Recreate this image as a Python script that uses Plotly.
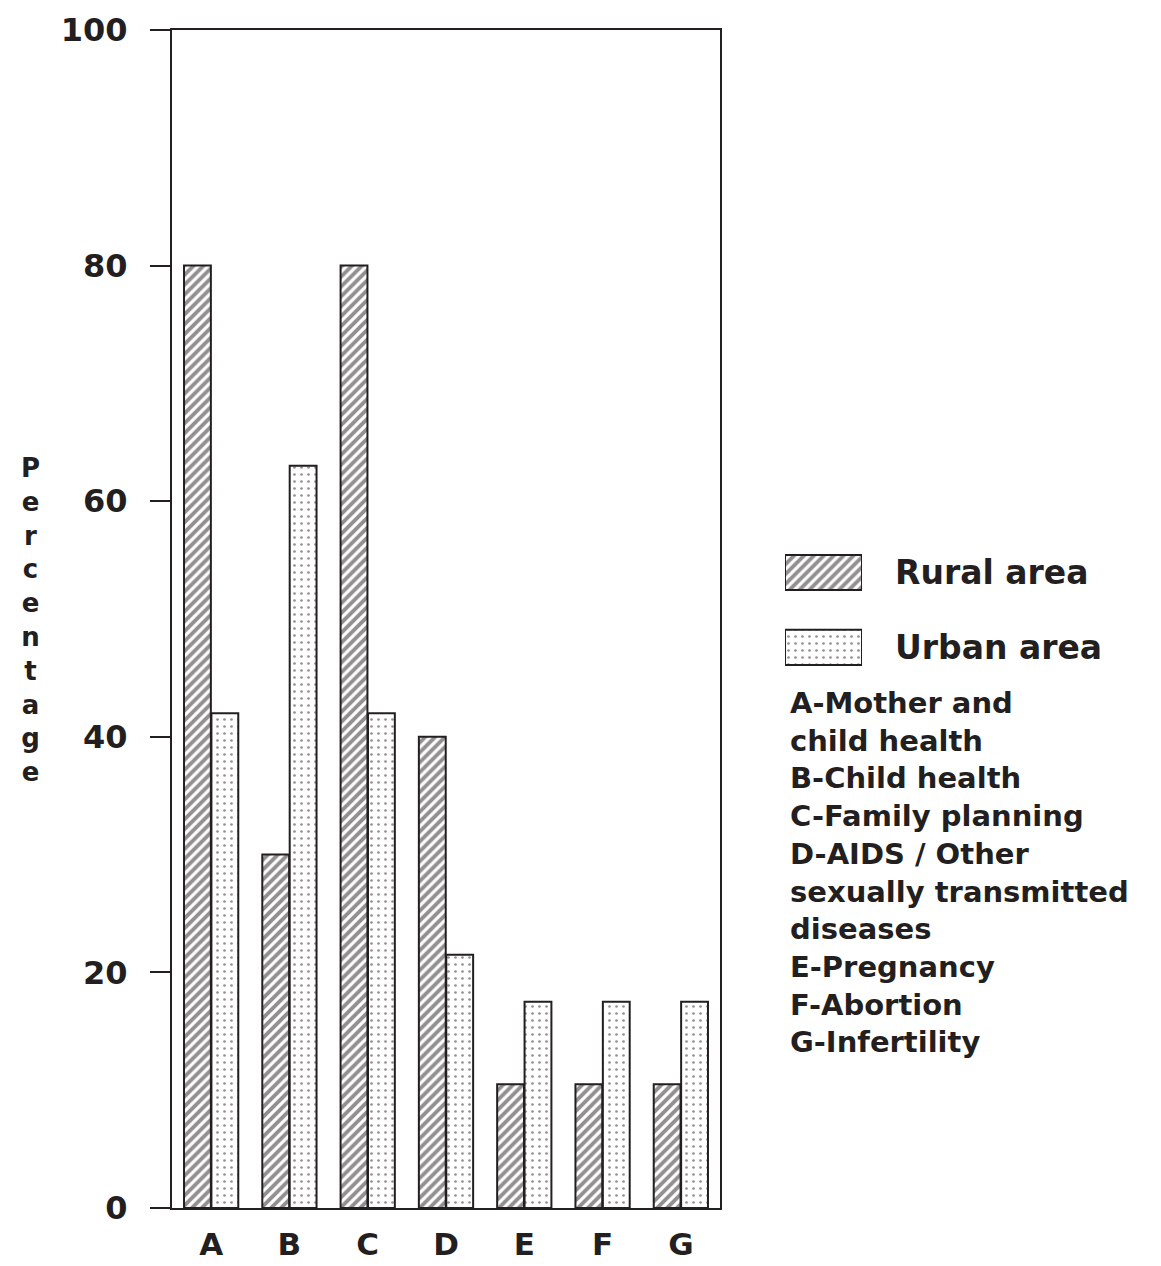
import plotly.graph_objects as go

categories = ["A", "B", "C", "D", "E", "F", "G"]
rural = [80, 30, 80, 40, 10.5, 10.5, 10.5]
urban = [42, 63, 42, 21.5, 17.5, 17.5, 17.5]
y_ticks = [0, 20, 40, 60, 80, 100]
series_names = ["Rural area", "Urban area"]
description_lines = [
    "A-Mother and", "child health", "B-Child health", "C-Family planning",
    "D-AIDS / Other", "sexually transmitted", "diseases", "E-Pregnancy",
    "F-Abortion", "G-Infertility",
]
y_title = "Percentage"

INK = "#231f20"
FONT = "DejaVu Sans, sans-serif"
# page has an 8px body margin; figure is sized to fit inside it
W, H = 1153, 1258
L, R, T, B = 164, 8, 22, 58
PW = W - L - R          # paper width in px
PH = H - T - B          # paper height in px
X0 = 172                # page x of plot-area left edge
Y0 = 1208               # page y of plot-area bottom edge


def px(xp):
    return (xp - X0) / PW


def py(yp):
    return (Y0 - yp) / PH


rural_pat = dict(shape="/", fgcolor=INK, bgcolor="white", size=7, solidity=0.55)
urban_pat = dict(shape=".", fgcolor=INK, bgcolor="white", size=7, solidity=0.12)
bar_line = dict(color=INK, width=2)

fig = go.Figure()
fig.add_trace(go.Bar(
    x=categories, y=rural, name=series_names[0],
    marker=dict(color="white", line=bar_line, pattern=rural_pat),
))
fig.add_trace(go.Bar(
    x=categories, y=urban, name=series_names[1],
    marker=dict(color="white", line=bar_line, pattern=urban_pat),
))

# legend swatches drawn as bars on a small auxiliary subplot
fig.add_trace(go.Bar(
    x=[1], y=[series_names[0]], orientation="h", width=0.47,
    xaxis="x2", yaxis="y2", showlegend=False, hoverinfo="skip",
    marker=dict(color="white", line=bar_line, pattern=rural_pat),
))
fig.add_trace(go.Bar(
    x=[1], y=[series_names[1]], orientation="h", width=0.47,
    xaxis="x2", yaxis="y2", showlegend=False, hoverinfo="skip",
    marker=dict(color="white", line=bar_line, pattern=urban_pat),
))

fig.update_layout(
    width=W, height=H,
    margin=dict(l=L, r=R, t=T, b=B, autoexpand=False),
    paper_bgcolor="white", plot_bgcolor="white",
    barmode="group", bargap=0.3, bargroupgap=0.02,
    font=dict(family=FONT, color=INK),
    showlegend=False,
    xaxis=dict(
        domain=[0, px(720)],
        showline=True, linecolor=INK, linewidth=2, mirror=True,
        ticks="", tickfont=dict(size=31, family=FONT, color=INK, weight="bold"),
        ticklabelstandoff=8, ticklabeloverflow="allow", showgrid=False,
    ),
    yaxis=dict(
        range=[0, 100], tickvals=y_ticks, ticktext=[str(v) for v in y_ticks],
        showline=True, linecolor=INK, linewidth=2, mirror=True,
        ticks="outside", ticklen=20, tickwidth=1.5, tickcolor=INK,
        tickfont=dict(size=32, family=FONT, color=INK, weight="bold"),
        ticklabelstandoff=16, ticklabeloverflow="allow",
        showgrid=False, zeroline=False,
    ),
    xaxis2=dict(
        domain=[px(785), px(862)], anchor="y2", range=[0, 1],
        visible=False, fixedrange=True,
    ),
    yaxis2=dict(
        domain=[py(685), py(535)], anchor="x2", side="right",
        type="category", categoryorder="array",
        categoryarray=[series_names[1], series_names[0]], range=[-0.5, 1.5],
        showline=False, showgrid=False, zeroline=False, ticks="",
        tickfont=dict(size=33, family=FONT, color=INK, weight="bold"),
        ticklabelstandoff=32, fixedrange=True,
    ),
)

fig.add_annotation(
    xref="paper", yref="paper", x=px(30), y=py(620),
    text="<br>".join(list(y_title)), showarrow=False,
    xanchor="center", yanchor="middle",
    font=dict(size=26, family=FONT, color=INK, weight="bold"),
)
fig.add_annotation(
    xref="paper", yref="paper", x=px(788), y=py(684),
    text="<br>".join(description_lines), showarrow=False,
    xanchor="left", yanchor="top", align="left",
    font=dict(size=29, family=FONT, color=INK, weight="bold"),
)

fig.write_html("out.html")
